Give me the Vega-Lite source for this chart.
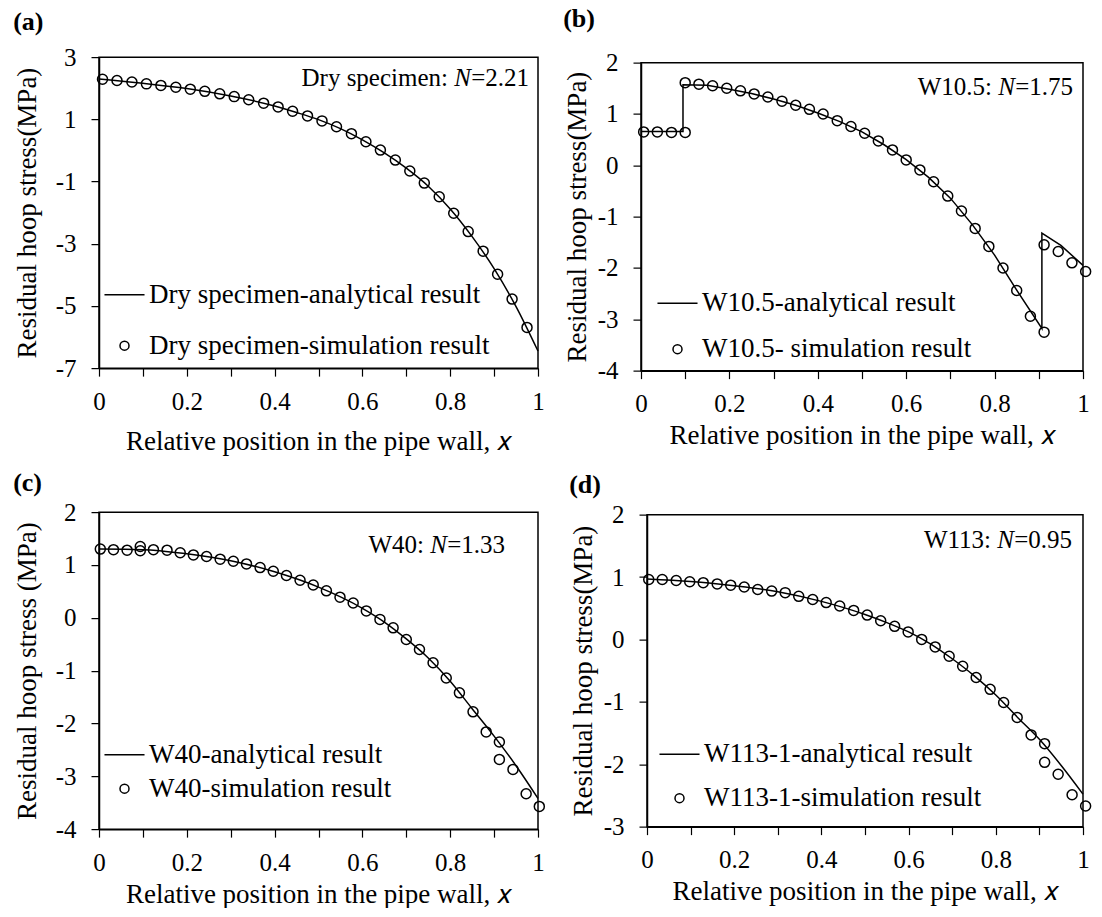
{
  "$schema": "https://vega.github.io/schema/vega-lite/v6.json",
  "background": "white",
  "padding": {"left": 12, "top": 4, "right": 0, "bottom": 0},
  "config": {
    "font": "Liberation Serif",
    "view": {"stroke": "black", "strokeWidth": 1.5},
    "axis": {"grid": false, "domainColor": "black", "domainWidth": 1.5, "tickColor": "black", "tickWidth": 1.2, "tickSize": 8,
      "labelFont": "Liberation Serif", "labelFontSize": 25, "labelColor": "black", "labelFlush": false, "labelOverlap": false, "labelBound": false,
      "titleFont": "Liberation Serif", "titleFontSize": 27, "titleFontWeight": "normal", "titleColor": "black"},
    "axisX": {"labelPadding": 13, "titlePadding": 6},
    "axisY": {"labelPadding": 15, "titlePadding": 14},
    "legend": {"labelFont": "Liberation Serif", "labelFontSize": 27, "labelColor": "black", "labelLimit": 0, "symbolSize": 81, "symbolStrokeWidth": 1.5, "symbolStrokeColor": "black", "symbolFillColor": "transparent", "labelOffset": 11, "padding": 0, "orient": "none"},
    "title": {"font": "Liberation Serif", "fontSize": 26, "fontWeight": "bold", "anchor": "start", "frame": "bounds", "color": "black"},
    "text": {"font": "Liberation Serif", "fontSize": 25, "color": "black", "baseline": "alphabetic", "align": "right"}
  },
  "datasets": {
    "a_line": [{"x":0,"y":2.30},{"x":0.1,"y":2.16},{"x":0.2,"y":1.99},{"x":0.3,"y":1.75},{"x":0.4,"y":1.43},{"x":0.45,"y":1.22},{"x":0.5,"y":0.99},{"x":0.55,"y":0.70},{"x":0.6,"y":0.34},{"x":0.65,"y":-0.08},{"x":0.7,"y":-0.57},{"x":0.75,"y":-1.15},{"x":0.8,"y":-1.88},{"x":0.85,"y":-2.77},{"x":0.9,"y":-3.80},{"x":0.95,"y":-5.02},{"x":1.0,"y":-6.45}],
    "a_pts": [{"x":0.008,"y":2.29},{"x":0.041,"y":2.25},{"x":0.075,"y":2.20},{"x":0.108,"y":2.14},{"x":0.141,"y":2.09},{"x":0.175,"y":2.03},{"x":0.208,"y":1.97},{"x":0.241,"y":1.90},{"x":0.275,"y":1.82},{"x":0.308,"y":1.73},{"x":0.341,"y":1.63},{"x":0.375,"y":1.52},{"x":0.408,"y":1.40},{"x":0.441,"y":1.26},{"x":0.475,"y":1.11},{"x":0.508,"y":0.95},{"x":0.541,"y":0.76},{"x":0.575,"y":0.54},{"x":0.608,"y":0.28},{"x":0.641,"y":0.01},{"x":0.675,"y":-0.31},{"x":0.708,"y":-0.66},{"x":0.741,"y":-1.05},{"x":0.775,"y":-1.49},{"x":0.808,"y":-2.02},{"x":0.841,"y":-2.61},{"x":0.875,"y":-3.24},{"x":0.908,"y":-3.98},{"x":0.941,"y":-4.78},{"x":0.975,"y":-5.69}],
    "b_line": [{"i":0,"x":0,"y":0.66},{"i":1,"x":0.095,"y":0.66},{"i":2,"x":0.095,"y":1.57},{"i":3,"x":0.15,"y":1.56},{"i":4,"x":0.2,"y":1.48},{"i":5,"x":0.25,"y":1.40},{"i":6,"x":0.3,"y":1.29},{"i":7,"x":0.35,"y":1.17},{"i":8,"x":0.4,"y":1.02},{"i":9,"x":0.45,"y":0.85},{"i":10,"x":0.5,"y":0.65},{"i":11,"x":0.55,"y":0.40},{"i":12,"x":0.6,"y":0.11},{"i":13,"x":0.65,"y":-0.23},{"i":14,"x":0.7,"y":-0.64},{"i":15,"x":0.75,"y":-1.16},{"i":16,"x":0.8,"y":-1.75},{"i":17,"x":0.85,"y":-2.43},{"i":18,"x":0.907,"y":-3.18},{"i":19,"x":0.907,"y":-1.32},{"i":20,"x":0.95,"y":-1.56},{"i":21,"x":1.0,"y":-1.95}],
    "b_pts": [{"x":0.006,"y":0.65},{"x":0.037,"y":0.65},{"x":0.069,"y":0.64},{"x":0.100,"y":0.64},{"x":0.100,"y":1.61},{"x":0.131,"y":1.58},{"x":0.162,"y":1.55},{"x":0.194,"y":1.50},{"x":0.225,"y":1.45},{"x":0.256,"y":1.39},{"x":0.287,"y":1.33},{"x":0.319,"y":1.25},{"x":0.350,"y":1.17},{"x":0.381,"y":1.09},{"x":0.412,"y":1.00},{"x":0.444,"y":0.87},{"x":0.475,"y":0.755},{"x":0.506,"y":0.625},{"x":0.537,"y":0.475},{"x":0.569,"y":0.30},{"x":0.600,"y":0.105},{"x":0.631,"y":-0.09},{"x":0.662,"y":-0.32},{"x":0.694,"y":-0.60},{"x":0.725,"y":-0.89},{"x":0.756,"y":-1.23},{"x":0.787,"y":-1.58},{"x":0.819,"y":-2.00},{"x":0.850,"y":-2.44},{"x":0.881,"y":-2.94},{"x":0.912,"y":-3.25},{"x":0.912,"y":-1.55},{"x":0.944,"y":-1.68},{"x":0.975,"y":-1.90},{"x":1.006,"y":-2.07}],
    "c_line": [{"x":0,"y":1.30},{"x":0.1,"y":1.29},{"x":0.2,"y":1.21},{"x":0.3,"y":1.08},{"x":0.4,"y":0.87},{"x":0.5,"y":0.58},{"x":0.6,"y":0.18},{"x":0.65,"y":-0.08},{"x":0.7,"y":-0.40},{"x":0.75,"y":-0.76},{"x":0.8,"y":-1.20},{"x":0.85,"y":-1.72},{"x":0.9,"y":-2.24},{"x":0.95,"y":-2.80},{"x":1.0,"y":-3.42}],
    "c_pts": [{"x":0.003,"y":1.30},{"x":0.033,"y":1.29},{"x":0.064,"y":1.28},{"x":0.094,"y":1.35},{"x":0.094,"y":1.27},{"x":0.124,"y":1.29},{"x":0.155,"y":1.28},{"x":0.185,"y":1.23},{"x":0.215,"y":1.19},{"x":0.245,"y":1.16},{"x":0.276,"y":1.11},{"x":0.306,"y":1.07},{"x":0.336,"y":1.02},{"x":0.367,"y":0.95},{"x":0.397,"y":0.88},{"x":0.427,"y":0.80},{"x":0.458,"y":0.71},{"x":0.488,"y":0.62},{"x":0.518,"y":0.51},{"x":0.549,"y":0.39},{"x":0.579,"y":0.28},{"x":0.609,"y":0.13},{"x":0.640,"y":-0.03},{"x":0.670,"y":-0.19},{"x":0.700,"y":-0.41},{"x":0.730,"y":-0.60},{"x":0.761,"y":-0.85},{"x":0.791,"y":-1.14},{"x":0.821,"y":-1.42},{"x":0.852,"y":-1.78},{"x":0.882,"y":-2.16},{"x":0.912,"y":-2.35},{"x":0.912,"y":-2.68},{"x":0.943,"y":-2.87},{"x":0.973,"y":-3.33},{"x":1.003,"y":-3.57}],
    "d_line": [{"x":0,"y":0.97},{"x":0.1,"y":0.93},{"x":0.2,"y":0.86},{"x":0.3,"y":0.765},{"x":0.4,"y":0.61},{"x":0.5,"y":0.40},{"x":0.55,"y":0.27},{"x":0.6,"y":0.12},{"x":0.65,"y":-0.07},{"x":0.7,"y":-0.31},{"x":0.75,"y":-0.58},{"x":0.8,"y":-0.89},{"x":0.85,"y":-1.25},{"x":0.9,"y":-1.60},{"x":0.95,"y":-2.02},{"x":1.0,"y":-2.48}],
    "d_pts": [{"x":0.004,"y":0.96},{"x":0.035,"y":0.96},{"x":0.067,"y":0.945},{"x":0.098,"y":0.925},{"x":0.129,"y":0.91},{"x":0.161,"y":0.89},{"x":0.192,"y":0.87},{"x":0.223,"y":0.84},{"x":0.254,"y":0.80},{"x":0.286,"y":0.775},{"x":0.317,"y":0.75},{"x":0.348,"y":0.69},{"x":0.380,"y":0.64},{"x":0.411,"y":0.59},{"x":0.442,"y":0.535},{"x":0.474,"y":0.465},{"x":0.505,"y":0.39},{"x":0.536,"y":0.30},{"x":0.568,"y":0.21},{"x":0.599,"y":0.12},{"x":0.630,"y":0.0},{"x":0.661,"y":-0.12},{"x":0.693,"y":-0.27},{"x":0.724,"y":-0.43},{"x":0.755,"y":-0.61},{"x":0.787,"y":-0.80},{"x":0.818,"y":-1.01},{"x":0.849,"y":-1.25},{"x":0.881,"y":-1.53},{"x":0.912,"y":-1.67},{"x":0.912,"y":-1.97},{"x":0.943,"y":-2.16},{"x":0.975,"y":-2.49},{"x":1.006,"y":-2.67}],
    "a_note": [{"pre": "Dry specimen:", "n": "N", "val": "=2.21"}],
    "b_note": [{"pre": "W10.5:", "n": "N", "val": "=1.75"}],
    "c_note": [{"pre": "W40:", "n": "N", "val": "=1.33"}],
    "d_note": [{"pre": "W113:", "n": "N", "val": "=0.95"}]
  },
  "vconcat": [
    {
      "hconcat": [
        {
          "width": 439, "height": 311,
          "title": {"text": "(a)", "offset": 10},
          "layer": [
            {"data": {"name": "a_line"}, "mark": {"type": "line", "color": "black", "strokeWidth": 1.5, "interpolate": "monotone"},
             "encoding": {
               "x": {"field": "x", "type": "quantitative", "scale": {"domain": [0, 1], "nice": false, "zero": false},
                     "axis": {"title": "Relative position in the pipe wall, 𝑥", "titlePadding": 14, "values": [0,0.1,0.2,0.3,0.4,0.5,0.6,0.7,0.8,0.9,1], "labelExpr": "round(datum.value*10) % 2 == 0 ? '' + datum.value : ''"}},
               "y": {"field": "y", "type": "quantitative", "scale": {"domain": [-7, 3], "nice": false, "zero": false},
                     "axis": {"title": "Residual hoop stress(MPa)", "values": [-7,-6,-5,-4,-3,-2,-1,0,1,2,3], "labelExpr": "datum.value % 2 != 0 ? '' + datum.value : ''"}}
             }},
            {"data": {"name": "a_pts"}, "mark": {"type": "point", "filled": false, "color": "black", "strokeWidth": 1.5, "size": 100, "opacity": 1},
             "encoding": {
               "x": {"field": "x", "type": "quantitative"},
               "y": {"field": "y", "type": "quantitative"},
               "shape": {"datum": "Dry specimen-simulation result", "scale": {"domain": ["Dry specimen-analytical result", "Dry specimen-simulation result"], "range": ["M-4.45,0L4.45,0", "circle"]},
                         "legend": {"title": null, "legendX": 12, "legendY": 224, "rowPadding": 23}}
             }},
            {"data": {"name": "a_note"}, "mark": {"type": "text", "dx": -9, "dy": 29}, "encoding": {"x": {"datum": 1}, "y": {"datum": 3}, "text": {"field": "val"}}},
            {"data": {"name": "a_note"}, "mark": {"type": "text", "dx": -67, "dy": 29, "fontStyle": "italic"}, "encoding": {"x": {"datum": 1}, "y": {"datum": 3}, "text": {"field": "n"}}},
            {"data": {"name": "a_note"}, "mark": {"type": "text", "dx": -90, "dy": 29}, "encoding": {"x": {"datum": 1}, "y": {"datum": 3}, "text": {"field": "pre"}}}
          ]
        },
        {
          "width": 442, "height": 308,
          "title": {"text": "(b)", "offset": 19},
          "layer": [
            {"data": {"name": "b_line"}, "mark": {"type": "line", "color": "black", "strokeWidth": 1.5},
             "encoding": {
               "x": {"field": "x", "type": "quantitative", "scale": {"domain": [0, 1], "nice": false, "zero": false},
                     "axis": {"title": "Relative position in the pipe wall, 𝑥", "values": [0,0.1,0.2,0.3,0.4,0.5,0.6,0.7,0.8,0.9,1], "labelExpr": "round(datum.value*10) % 2 == 0 ? '' + datum.value : ''"}},
               "y": {"field": "y", "type": "quantitative", "scale": {"domain": [-4, 2], "nice": false, "zero": false},
                     "axis": {"title": "Residual hoop stress(MPa)", "titlePadding": 6, "values": [-4,-3.5,-3,-2.5,-2,-1.5,-1,-0.5,0,0.5,1,1.5,2], "labelExpr": "datum.value == round(datum.value) ? '' + datum.value : ''"}},
               "order": {"field": "i", "type": "quantitative"}
             }},
            {"data": {"name": "b_pts"}, "mark": {"type": "point", "filled": false, "color": "black", "strokeWidth": 1.5, "size": 100, "opacity": 1},
             "encoding": {
               "x": {"field": "x", "type": "quantitative"},
               "y": {"field": "y", "type": "quantitative"},
               "shape": {"datum": "W10.5- simulation result", "scale": {"domain": ["W10.5-analytical result", "W10.5- simulation result"], "range": ["M-4.45,0L4.45,0", "circle"]},
                         "legend": {"title": null, "legendX": 23, "legendY": 227, "rowPadding": 18}}
             }},
            {"data": {"name": "b_note"}, "mark": {"type": "text", "dx": -10, "dy": 32}, "encoding": {"x": {"datum": 1}, "y": {"datum": 2}, "text": {"field": "val"}}},
            {"data": {"name": "b_note"}, "mark": {"type": "text", "dx": -68, "dy": 32, "fontStyle": "italic"}, "encoding": {"x": {"datum": 1}, "y": {"datum": 2}, "text": {"field": "n"}}},
            {"data": {"name": "b_note"}, "mark": {"type": "text", "dx": -91, "dy": 32}, "encoding": {"x": {"datum": 1}, "y": {"datum": 2}, "text": {"field": "pre"}}}
          ]
        }
      ],
      "spacing": 17,
      "center": true,
      "resolve": {"scale": {"x": "independent", "y": "independent", "shape": "independent"}, "legend": {"shape": "independent"}}
    },
    {
      "hconcat": [
        {
          "width": 439, "height": 317,
          "title": {"text": "(c)", "offset": 4},
          "layer": [
            {"data": {"name": "c_line"}, "mark": {"type": "line", "color": "black", "strokeWidth": 1.5, "interpolate": "monotone"},
             "encoding": {
               "x": {"field": "x", "type": "quantitative", "scale": {"domain": [0, 1], "nice": false, "zero": false},
                     "axis": {"title": "Relative position in the pipe wall, 𝑥", "values": [0,0.1,0.2,0.3,0.4,0.5,0.6,0.7,0.8,0.9,1], "labelExpr": "round(datum.value*10) % 2 == 0 ? '' + datum.value : ''"}},
               "y": {"field": "y", "type": "quantitative", "scale": {"domain": [-4, 2], "nice": false, "zero": false},
                     "axis": {"title": "Residual hoop stress (MPa)", "values": [-4,-3.5,-3,-2.5,-2,-1.5,-1,-0.5,0,0.5,1,1.5,2], "labelExpr": "datum.value == round(datum.value) ? '' + datum.value : ''"}}
             }},
            {"data": {"name": "c_pts"}, "mark": {"type": "point", "filled": false, "color": "black", "strokeWidth": 1.5, "size": 100, "opacity": 1},
             "encoding": {
               "x": {"field": "x", "type": "quantitative"},
               "y": {"field": "y", "type": "quantitative"},
               "shape": {"datum": "W40-simulation result", "scale": {"domain": ["W40-analytical result", "W40-simulation result"], "range": ["M-4.45,0L4.45,0", "circle"]},
                         "legend": {"title": null, "legendX": 12, "legendY": 229, "rowPadding": 6}}
             }},
            {"data": {"name": "c_note"}, "mark": {"type": "text", "dx": -33, "dy": 41}, "encoding": {"x": {"datum": 1}, "y": {"datum": 2}, "text": {"field": "val"}}},
            {"data": {"name": "c_note"}, "mark": {"type": "text", "dx": -91, "dy": 41, "fontStyle": "italic"}, "encoding": {"x": {"datum": 1}, "y": {"datum": 2}, "text": {"field": "n"}}},
            {"data": {"name": "c_note"}, "mark": {"type": "text", "dx": -114, "dy": 41}, "encoding": {"x": {"datum": 1}, "y": {"datum": 2}, "text": {"field": "pre"}}}
          ]
        },
        {
          "width": 436, "height": 312,
          "title": {"text": "(d)", "offset": 5},
          "layer": [
            {"data": {"name": "d_line"}, "mark": {"type": "line", "color": "black", "strokeWidth": 1.5, "interpolate": "monotone"},
             "encoding": {
               "x": {"field": "x", "type": "quantitative", "scale": {"domain": [0, 1], "nice": false, "zero": false},
                     "axis": {"title": "Relative position in the pipe wall, 𝑥", "values": [0,0.1,0.2,0.3,0.4,0.5,0.6,0.7,0.8,0.9,1], "labelExpr": "round(datum.value*10) % 2 == 0 ? '' + datum.value : ''"}},
               "y": {"field": "y", "type": "quantitative", "scale": {"domain": [-3, 2], "nice": false, "zero": false},
                     "axis": {"title": "Residual hoop stress(MPa)", "titlePadding": 6, "values": [-3,-2.5,-2,-1.5,-1,-0.5,0,0.5,1,1.5,2], "labelExpr": "datum.value == round(datum.value) ? '' + datum.value : ''"}}
             }},
            {"data": {"name": "d_pts"}, "mark": {"type": "point", "filled": false, "color": "black", "strokeWidth": 1.5, "size": 100, "opacity": 1},
             "encoding": {
               "x": {"field": "x", "type": "quantitative"},
               "y": {"field": "y", "type": "quantitative"},
               "shape": {"datum": "W113-1-simulation result", "scale": {"domain": ["W113-1-analytical result", "W113-1-simulation result"], "range": ["M-4.45,0L4.45,0", "circle"]},
                         "legend": {"title": null, "legendX": 19, "legendY": 226, "rowPadding": 16}}
             }},
            {"data": {"name": "d_note"}, "mark": {"type": "text", "dx": -11, "dy": 33}, "encoding": {"x": {"datum": 1}, "y": {"datum": 2}, "text": {"field": "val"}}},
            {"data": {"name": "d_note"}, "mark": {"type": "text", "dx": -69, "dy": 33, "fontStyle": "italic"}, "encoding": {"x": {"datum": 1}, "y": {"datum": 2}, "text": {"field": "n"}}},
            {"data": {"name": "d_note"}, "mark": {"type": "text", "dx": -92, "dy": 33}, "encoding": {"x": {"datum": 1}, "y": {"datum": 2}, "text": {"field": "pre"}}}
          ]
        }
      ],
      "spacing": 19,
      "center": true,
      "resolve": {"scale": {"x": "independent", "y": "independent", "shape": "independent"}, "legend": {"shape": "independent"}}
    }
  ],
  "spacing": 14,
  "resolve": {"scale": {"x": "independent", "y": "independent", "shape": "independent"}, "legend": {"shape": "independent"}}
}
